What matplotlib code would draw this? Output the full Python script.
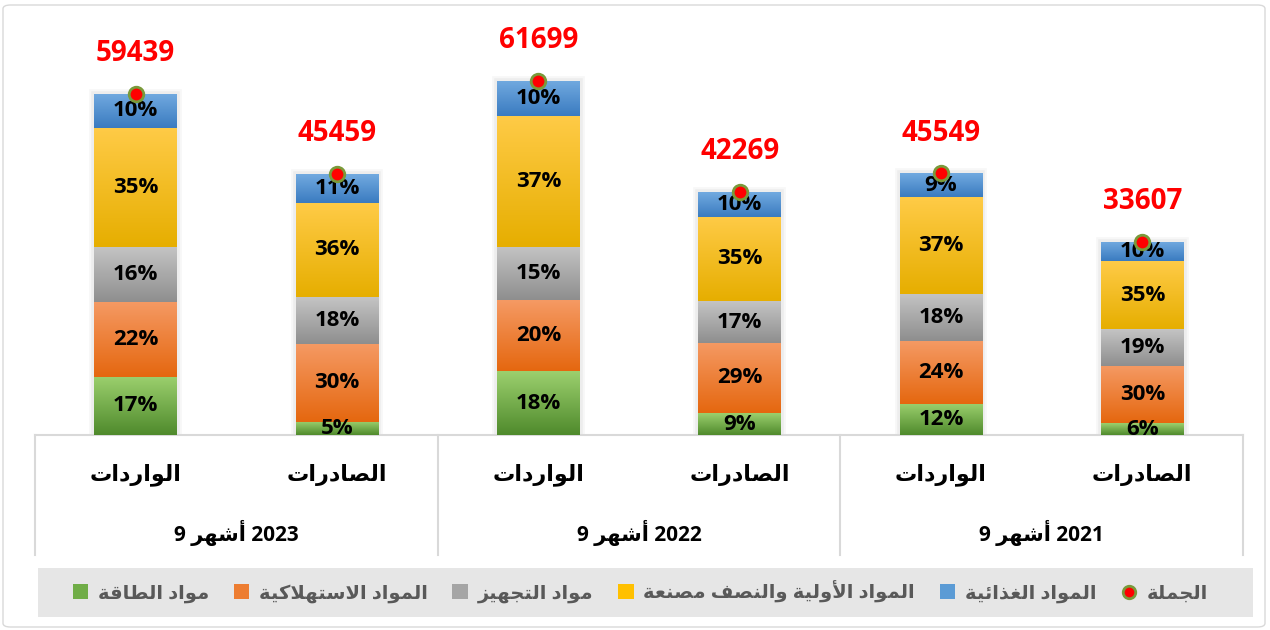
import numpy as np
import matplotlib
matplotlib.use("Agg")
import matplotlib.pyplot as plt
import matplotlib.transforms as mtransforms
from matplotlib.colors import LinearSegmentedColormap
from matplotlib.patches import Patch, Rectangle, FancyBboxPatch
from matplotlib.lines import Line2D

# data
categories = ['الواردات', 'الصادرات', 'الواردات', 'الصادرات', 'الواردات', 'الصادرات']
years = ['9 أشهر 2023', '9 أشهر 2022', '9 أشهر 2021']
totals = [59439, 45459, 61699, 42269, 45549, 33607]
energy = [17, 5, 18, 9, 12, 6]
consumer = [22, 30, 20, 29, 24, 30]
equipment = [16, 18, 15, 17, 18, 19]
raw = [35, 36, 37, 35, 37, 35]
food = [10, 11, 10, 10, 9, 10]

series_names = ['مواد الطاقة', 'المواد الاستهلاكية', 'مواد التجهيز',
                'المواد الأولية والنصف مصنعة', 'المواد الغذائية']
total_name = 'الجملة'

# (light top, dark bottom) for each series
grad = [('#9CD06E', '#4F8A2C'), ('#F59A64', '#E5670F'), ('#C4C4C4', '#8E8E8E'),
        ('#FFCB47', '#E6AE00'), ('#72AAE0', '#3A7BC0')]
solid = ['#70AD47', '#ED7D31', '#A5A5A5', '#FFC000', '#5B9BD5']

# --- tiny arabic shaper (matplotlib has no text shaping) ---
_dual = {'ئ': 0xFE89, 'ب': 0xFE8F, 'ت': 0xFE95, 'ث': 0xFE99, 'ج': 0xFE9D, 'ح': 0xFEA1,
         'خ': 0xFEA5, 'س': 0xFEB1, 'ش': 0xFEB5, 'ص': 0xFEB9, 'ض': 0xFEBD, 'ط': 0xFEC1,
         'ظ': 0xFEC5, 'ع': 0xFEC9, 'غ': 0xFECD, 'ف': 0xFED1, 'ق': 0xFED5, 'ك': 0xFED9,
         'ل': 0xFEDD, 'م': 0xFEE1, 'ن': 0xFEE5, 'ه': 0xFEE9, 'ي': 0xFEF1}
_right = {'آ': 0xFE81, 'أ': 0xFE83, 'ؤ': 0xFE85, 'إ': 0xFE87, 'ا': 0xFE8D, 'ة': 0xFE93,
          'د': 0xFEA9, 'ذ': 0xFEAB, 'ر': 0xFEAD, 'ز': 0xFEAF, 'و': 0xFEED, 'ى': 0xFEEF}
_lamalef = {'آ': 0xFEF5, 'أ': 0xFEF7, 'إ': 0xFEF9, 'ا': 0xFEFB}


def shape_word(w):
    chars = []
    i = 0
    while i < len(w):
        if w[i] == 'ل' and i + 1 < len(w) and w[i + 1] in _lamalef:
            chars.append(('LA', w[i + 1]))
            i += 2
        else:
            chars.append(('C', w[i]))
            i += 1
    out = []
    for k, (kind, c) in enumerate(chars):
        prev = chars[k - 1] if k > 0 else None
        nxt = chars[k + 1] if k + 1 < len(chars) else None
        jp = prev is not None and prev[0] == 'C' and prev[1] in _dual
        if kind == 'LA':
            out.append(chr(_lamalef[c] + (1 if jp else 0)))
            continue
        if c in _dual:
            jn = nxt is not None and (nxt[0] == 'LA' or nxt[1] in _dual or nxt[1] in _right)
            f = 3 if (jp and jn) else 1 if jp else 2 if jn else 0
            out.append(chr(_dual[c] + f))
        elif c in _right:
            out.append(chr(_right[c] + (1 if jp else 0)))
        else:
            out.append(c)
    return ''.join(out)


def ar(text):
    out, run = [], []
    for t in text.split(' '):
        if any('\u0600' <= ch <= '\u06FF' for ch in t):
            run.append(shape_word(t)[::-1])
        else:
            if run:
                out.extend(run[::-1])
                run = []
            out.append(t)
    if run:
        out.extend(run[::-1])
    return ' '.join(out)


FAM = ['Open Sans', 'DejaVu Sans']
plt.rcParams['font.family'] = FAM

fig = plt.figure(figsize=(12.7, 6.3), dpi=100)
ax = fig.add_axes([35 / 1270, 195 / 630, 1208 / 1270, 425 / 630])

x = np.arange(len(totals))
tot = np.array(totals, dtype=float)
stack = [energy, consumer, equipment, raw, food]
w = 0.41

# soft shadow behind each column
for lw, a in [(7, 0.03), (4, 0.04)]:
    ax.bar(x, tot, width=w, facecolor='none', edgecolor='#000000', alpha=a,
           linewidth=lw, zorder=1)

bottom = np.zeros(len(totals))
grad_img = np.linspace(1, 0, 256).reshape(-1, 1)
for k, pct in enumerate(stack):
    vals = tot * np.array(pct) / 100.0
    bars = ax.bar(x, vals, width=w, bottom=bottom, color=solid[k], zorder=2)
    cm = LinearSegmentedColormap.from_list('g%d' % k, [grad[k][1], grad[k][0]])
    for b, p in zip(bars, pct):
        bx, by, bw, bh = b.get_x(), b.get_y(), b.get_width(), b.get_height()
        im = ax.imshow(grad_img, cmap=cm, extent=[bx, bx + bw, by, by + bh],
                       aspect='auto', zorder=3, interpolation='bicubic')
        im.set_clip_path(b)
        ax.text(bx + bw / 2, by + bh / 2, '%d%%' % p, ha='center', va='center',
                fontsize=16, fontweight='bold', color='black', zorder=6,
                clip_on=True)
    bottom += vals

# total markers and labels
ax.scatter(x, tot, s=110, color='#FF0000', edgecolor='#7A9A3A', linewidth=2,
           zorder=7)
for xi, t in zip(x, totals):
    ax.annotate(str(t), (xi, t), xytext=(0, 29), textcoords='offset points',
                ha='center', va='center', fontsize=20, fontweight='bold',
                color='#FF0000', zorder=8)

ax.set_xlim(-0.5, len(totals) - 0.5)
ax.set_ylim(0, 74000)
ax.set_xticks([])
ax.set_yticks([])
for s in ['top', 'left', 'right']:
    ax.spines[s].set_visible(False)
ax.spines['bottom'].set_color('#D9D9D9')
ax.spines['bottom'].set_linewidth(1.5)

# two-level category axis
trans = mtransforms.blended_transform_factory(ax.transData, ax.transAxes)
for xi, c in zip(x, categories):
    ax.text(xi, -0.094, ar(c), transform=trans, ha='center', va='center',
            fontsize=16, fontweight='bold', color='black', family=FAM)
for g, yl in enumerate(years):
    ax.text(2 * g + 0.5, -0.23, ar(yl), transform=trans, ha='center', va='center',
            fontsize=15, fontweight='bold', color='black', family=FAM)
for xb in [-0.5, 1.5, 3.5, 5.5]:
    ax.plot([xb, xb], [0, -0.282], transform=trans, color='#D9D9D9',
            linewidth=1.5, clip_on=False)

# legend band
fig.patches.append(Rectangle((38 / 1270, 13 / 630), 1215 / 1270, 49 / 630,
                             transform=fig.transFigure, facecolor='#E6E6E6',
                             edgecolor='none', zorder=0))
handles = [Patch(facecolor=c) for c in solid]
handles.append(Line2D([], [], marker='o', ls='', mfc='#FF0000', mec='#7A9A3A',
                      ms=9, mew=2))
labels = [ar(n) for n in series_names] + [ar(total_name)]
leg = fig.legend(handles, labels, ncol=6, mode='expand', frameon=False,
                 loc='center', bbox_to_anchor=(55 / 1270, 13 / 630, 1170 / 1270, 49 / 630),
                 prop={'family': FAM, 'weight': 'bold', 'size': 14},
                 handlelength=0.8, handleheight=0.8, handletextpad=0.5)
for t in leg.get_texts():
    t.set_color('#595959')

# outer chart border
fig.patches.append(FancyBboxPatch((3 / 1270, 3 / 630), 1262 / 1270, 622 / 630,
                                  boxstyle='round,pad=0,rounding_size=0.006',
                                  transform=fig.transFigure, facecolor='none',
                                  edgecolor='#D9D9D9', linewidth=1))

fig.savefig('out.png', dpi=100)
